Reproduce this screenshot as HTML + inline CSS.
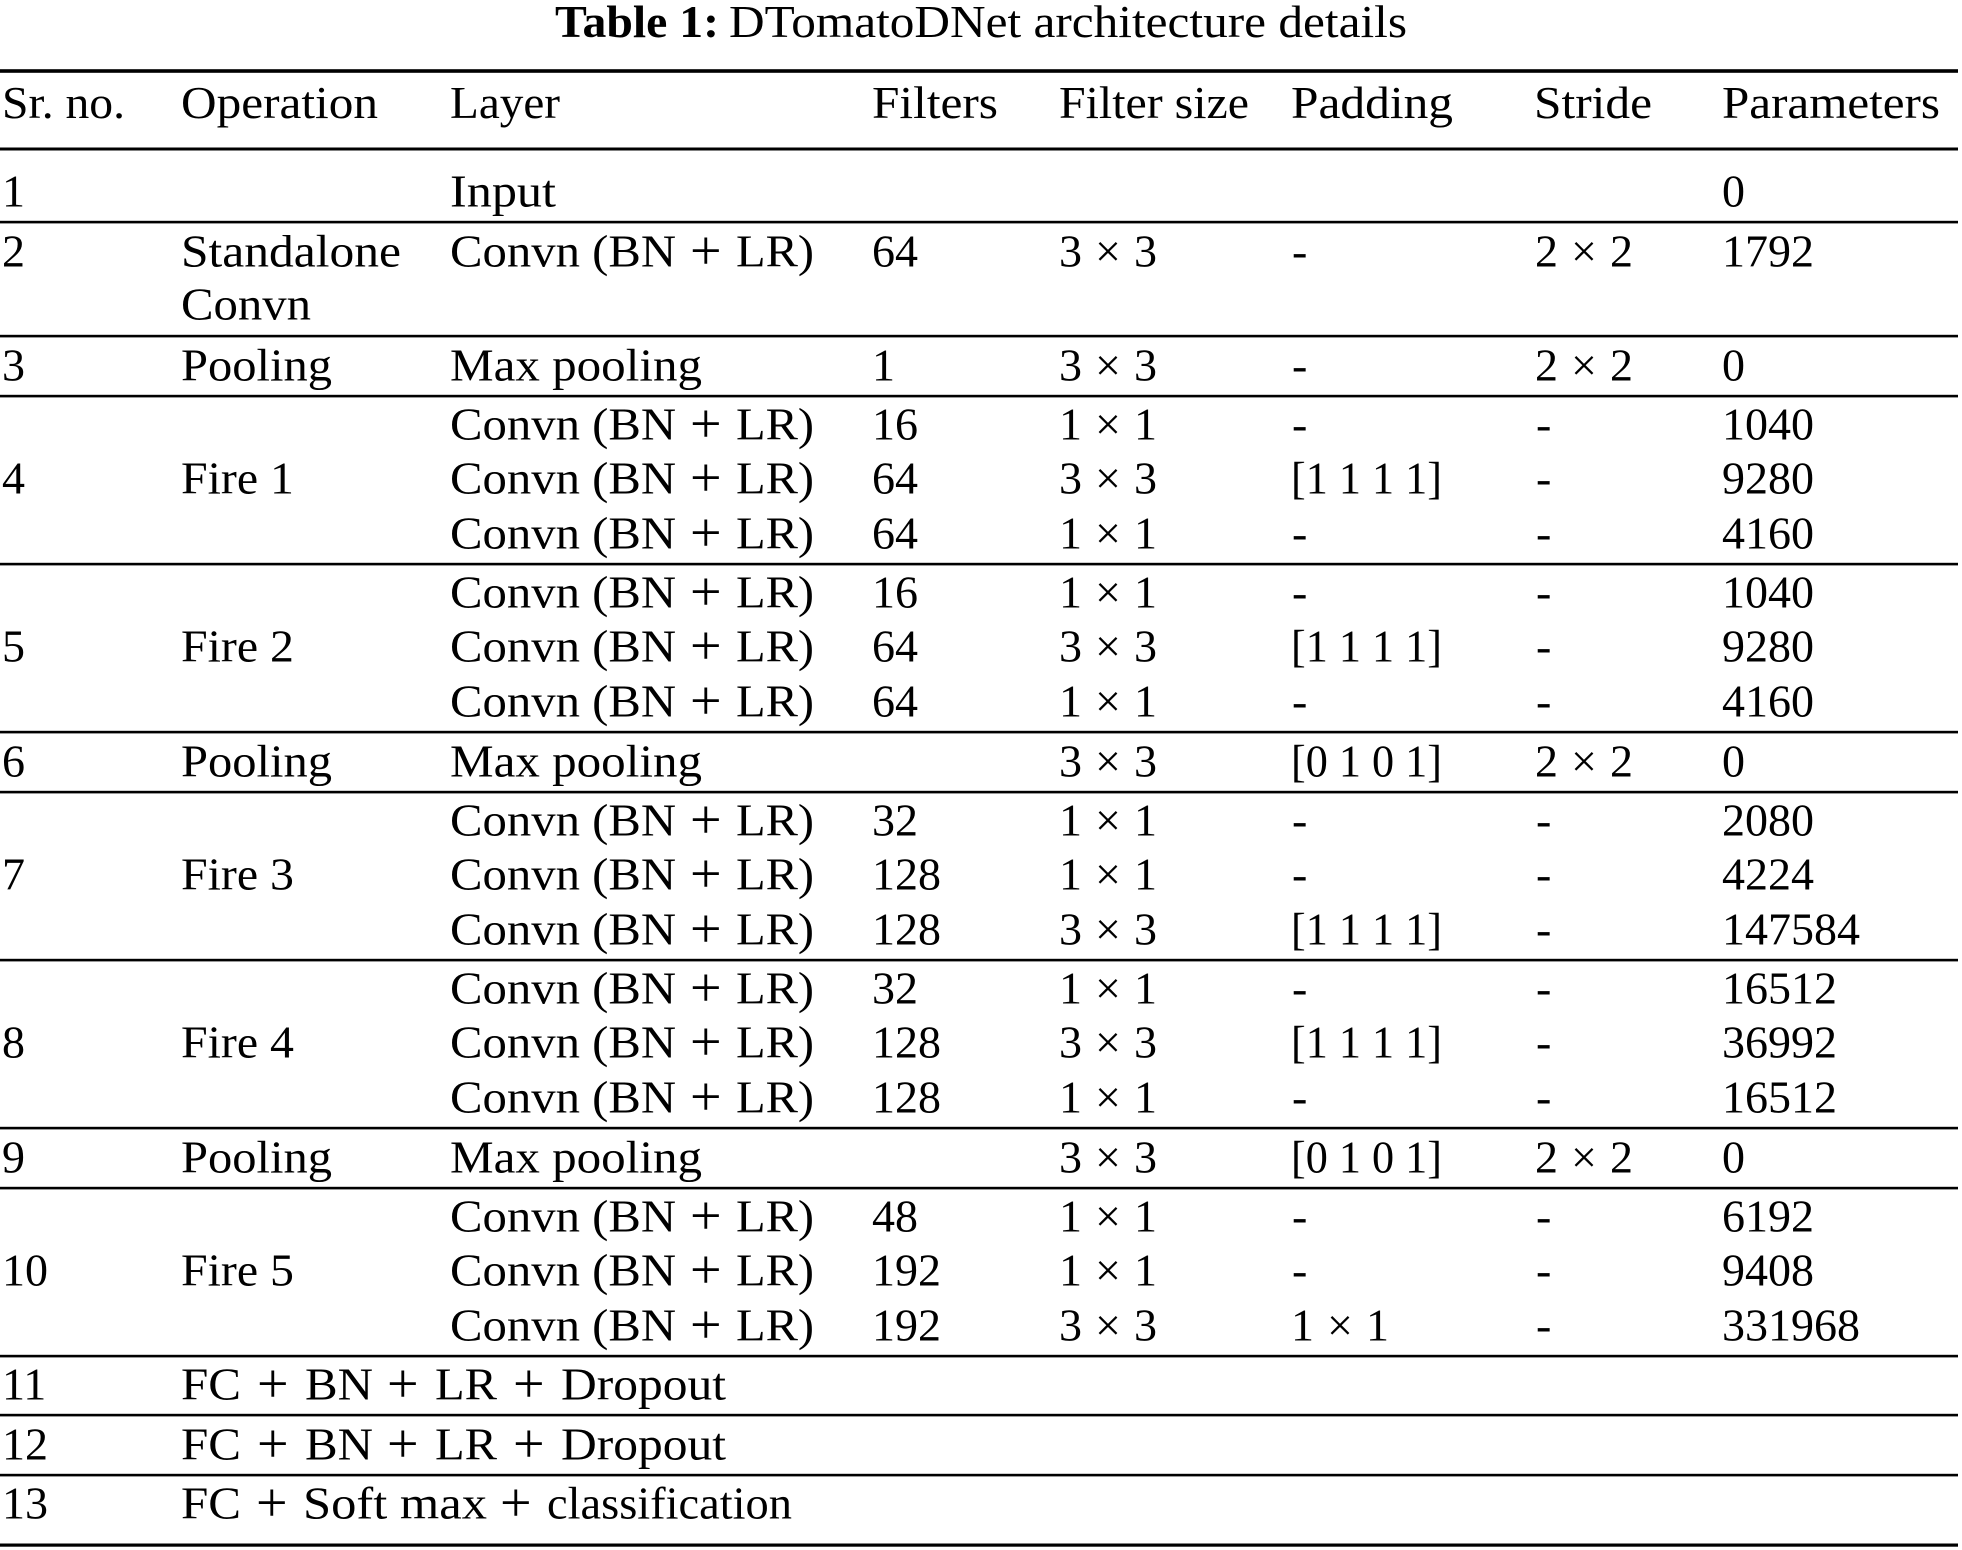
<!DOCTYPE html>
<html>
<head>
<meta charset="utf-8">
<style>
html,body{margin:0;padding:0;background:#fff;}
svg{display:block;}
text{font-family:"Liberation Serif","Times New Roman",serif;font-size:46px;fill:#000;}
text.p{font-size:56px;}
</style>
</head>
<body>
<svg width="1962" height="1550" viewBox="0 0 1962 1550" xmlns="http://www.w3.org/2000/svg">
<rect x="0" y="0" width="1962" height="1550" fill="#fff"/>

<!-- Title -->
<text x="555" y="37" font-weight="bold" textLength="164" lengthAdjust="spacingAndGlyphs">Table 1:</text>
<text x="729" y="37" textLength="678" lengthAdjust="spacingAndGlyphs">DTomatoDNet architecture details</text>

<!-- Rules -->
<g fill="#000">
<rect x="0" y="69.2" width="1958" height="3.6"/>
<rect x="0" y="147.5" width="1958" height="3"/>
<rect x="0" y="220.8" width="1958" height="2.6"/>
<rect x="0" y="334.8" width="1958" height="2.6"/>
<rect x="0" y="394.8" width="1958" height="2.6"/>
<rect x="0" y="562.8" width="1958" height="2.6"/>
<rect x="0" y="730.8" width="1958" height="2.6"/>
<rect x="0" y="790.8" width="1958" height="2.6"/>
<rect x="0" y="958.8" width="1958" height="2.6"/>
<rect x="0" y="1126.8" width="1958" height="2.6"/>
<rect x="0" y="1186.8" width="1958" height="2.6"/>
<rect x="0" y="1354.8" width="1958" height="2.6"/>
<rect x="0" y="1413.8" width="1958" height="2.6"/>
<rect x="0" y="1473.8" width="1958" height="2.6"/>
<rect x="0" y="1543.5" width="1958" height="3.2"/>
</g>

<!-- Header -->
<g transform="translate(0,-2)">
<text x="2" y="120" textLength="123" lengthAdjust="spacingAndGlyphs">Sr. no.</text>
<text x="181" y="120" textLength="197" lengthAdjust="spacingAndGlyphs">Operation</text>
<text x="450" y="120" textLength="110" lengthAdjust="spacingAndGlyphs">Layer</text>
<text x="872" y="120" textLength="126" lengthAdjust="spacingAndGlyphs">Filters</text>
<text x="1059" y="120" textLength="190" lengthAdjust="spacingAndGlyphs">Filter size</text>
<text x="1291" y="120" textLength="162" lengthAdjust="spacingAndGlyphs">Padding</text>
<text x="1534" y="120" textLength="118" lengthAdjust="spacingAndGlyphs">Stride</text>
<text x="1722" y="120" textLength="218" lengthAdjust="spacingAndGlyphs">Parameters</text>
</g>

<g transform="translate(0,-1.5)">
<!-- Row 1 -->
<text x="2" y="208">1</text>
<text x="450" y="208" textLength="106" lengthAdjust="spacingAndGlyphs">Input</text>
<text x="1722" y="208">0</text>

<!-- Row 2 -->
<text x="2" y="268">2</text>
<text x="181" y="268" textLength="220" lengthAdjust="spacingAndGlyphs">Standalone</text>
<text x="181" y="321" textLength="130" lengthAdjust="spacingAndGlyphs">Convn</text>
<text x="450" y="268" textLength="226" lengthAdjust="spacingAndGlyphs">Convn (BN</text>
<text class="p" x="690" y="271">+</text>
<text x="736" y="268" textLength="78" lengthAdjust="spacingAndGlyphs">LR)</text>
<text x="872" y="268">64</text>
<text y="268"><tspan x="1059">3</tspan><tspan x="1108" text-anchor="middle">×</tspan><tspan x="1134">3</tspan></text>
<text x="1292" y="268">-</text>
<text y="268"><tspan x="1535">2</tspan><tspan x="1584" text-anchor="middle">×</tspan><tspan x="1610">2</tspan></text>
<text x="1722" y="268">1792</text>

<!-- Row 3 -->
<text x="2" y="382">3</text>
<text x="181" y="382" textLength="151" lengthAdjust="spacingAndGlyphs">Pooling</text>
<text x="450" y="382" textLength="252" lengthAdjust="spacingAndGlyphs">Max pooling</text>
<text x="872" y="382">1</text>
<text y="382"><tspan x="1059">3</tspan><tspan x="1108" text-anchor="middle">×</tspan><tspan x="1134">3</tspan></text>
<text x="1292" y="382">-</text>
<text y="382"><tspan x="1535">2</tspan><tspan x="1584" text-anchor="middle">×</tspan><tspan x="1610">2</tspan></text>
<text x="1722" y="382">0</text>

<!-- Row 4 (Fire 1) -->
<text x="2" y="495">4</text>
<text x="181" y="495" textLength="113" lengthAdjust="spacingAndGlyphs">Fire 1</text>
<text x="450" y="441" textLength="226" lengthAdjust="spacingAndGlyphs">Convn (BN</text><text class="p" x="690" y="444">+</text><text x="736" y="441" textLength="78" lengthAdjust="spacingAndGlyphs">LR)</text>
<text x="450" y="495" textLength="226" lengthAdjust="spacingAndGlyphs">Convn (BN</text><text class="p" x="690" y="498">+</text><text x="736" y="495" textLength="78" lengthAdjust="spacingAndGlyphs">LR)</text>
<text x="450" y="550" textLength="226" lengthAdjust="spacingAndGlyphs">Convn (BN</text><text class="p" x="690" y="553">+</text><text x="736" y="550" textLength="78" lengthAdjust="spacingAndGlyphs">LR)</text>
<text x="872" y="441">16</text>
<text x="872" y="495">64</text>
<text x="872" y="550">64</text>
<text y="441"><tspan x="1059">1</tspan><tspan x="1108" text-anchor="middle">×</tspan><tspan x="1134">1</tspan></text>
<text y="495"><tspan x="1059">3</tspan><tspan x="1108" text-anchor="middle">×</tspan><tspan x="1134">3</tspan></text>
<text y="550"><tspan x="1059">1</tspan><tspan x="1108" text-anchor="middle">×</tspan><tspan x="1134">1</tspan></text>
<text x="1292" y="441">-</text>
<text x="1291" y="495" textLength="151" lengthAdjust="spacingAndGlyphs">[1 1 1 1]</text>
<text x="1292" y="550">-</text>
<text x="1536" y="441">-</text>
<text x="1536" y="495">-</text>
<text x="1536" y="550">-</text>
<text x="1722" y="441">1040</text>
<text x="1722" y="495">9280</text>
<text x="1722" y="550">4160</text>

<!-- Row 5 (Fire 2) -->
<text x="2" y="663">5</text>
<text x="181" y="663" textLength="113" lengthAdjust="spacingAndGlyphs">Fire 2</text>
<text x="450" y="609" textLength="226" lengthAdjust="spacingAndGlyphs">Convn (BN</text><text class="p" x="690" y="612">+</text><text x="736" y="609" textLength="78" lengthAdjust="spacingAndGlyphs">LR)</text>
<text x="450" y="663" textLength="226" lengthAdjust="spacingAndGlyphs">Convn (BN</text><text class="p" x="690" y="666">+</text><text x="736" y="663" textLength="78" lengthAdjust="spacingAndGlyphs">LR)</text>
<text x="450" y="718" textLength="226" lengthAdjust="spacingAndGlyphs">Convn (BN</text><text class="p" x="690" y="721">+</text><text x="736" y="718" textLength="78" lengthAdjust="spacingAndGlyphs">LR)</text>
<text x="872" y="609">16</text>
<text x="872" y="663">64</text>
<text x="872" y="718">64</text>
<text y="609"><tspan x="1059">1</tspan><tspan x="1108" text-anchor="middle">×</tspan><tspan x="1134">1</tspan></text>
<text y="663"><tspan x="1059">3</tspan><tspan x="1108" text-anchor="middle">×</tspan><tspan x="1134">3</tspan></text>
<text y="718"><tspan x="1059">1</tspan><tspan x="1108" text-anchor="middle">×</tspan><tspan x="1134">1</tspan></text>
<text x="1292" y="609">-</text>
<text x="1291" y="663" textLength="151" lengthAdjust="spacingAndGlyphs">[1 1 1 1]</text>
<text x="1292" y="718">-</text>
<text x="1536" y="609">-</text>
<text x="1536" y="663">-</text>
<text x="1536" y="718">-</text>
<text x="1722" y="609">1040</text>
<text x="1722" y="663">9280</text>
<text x="1722" y="718">4160</text>

<!-- Row 6 -->
<text x="2" y="778">6</text>
<text x="181" y="778" textLength="151" lengthAdjust="spacingAndGlyphs">Pooling</text>
<text x="450" y="778" textLength="252" lengthAdjust="spacingAndGlyphs">Max pooling</text>
<text y="778"><tspan x="1059">3</tspan><tspan x="1108" text-anchor="middle">×</tspan><tspan x="1134">3</tspan></text>
<text x="1291" y="778" textLength="151" lengthAdjust="spacingAndGlyphs">[0 1 0 1]</text>
<text y="778"><tspan x="1535">2</tspan><tspan x="1584" text-anchor="middle">×</tspan><tspan x="1610">2</tspan></text>
<text x="1722" y="778">0</text>

<!-- Row 7 (Fire 3) -->
<text x="2" y="891">7</text>
<text x="181" y="891" textLength="113" lengthAdjust="spacingAndGlyphs">Fire 3</text>
<text x="450" y="837" textLength="226" lengthAdjust="spacingAndGlyphs">Convn (BN</text><text class="p" x="690" y="840">+</text><text x="736" y="837" textLength="78" lengthAdjust="spacingAndGlyphs">LR)</text>
<text x="450" y="891" textLength="226" lengthAdjust="spacingAndGlyphs">Convn (BN</text><text class="p" x="690" y="894">+</text><text x="736" y="891" textLength="78" lengthAdjust="spacingAndGlyphs">LR)</text>
<text x="450" y="946" textLength="226" lengthAdjust="spacingAndGlyphs">Convn (BN</text><text class="p" x="690" y="949">+</text><text x="736" y="946" textLength="78" lengthAdjust="spacingAndGlyphs">LR)</text>
<text x="872" y="837">32</text>
<text x="872" y="891">128</text>
<text x="872" y="946">128</text>
<text y="837"><tspan x="1059">1</tspan><tspan x="1108" text-anchor="middle">×</tspan><tspan x="1134">1</tspan></text>
<text y="891"><tspan x="1059">1</tspan><tspan x="1108" text-anchor="middle">×</tspan><tspan x="1134">1</tspan></text>
<text y="946"><tspan x="1059">3</tspan><tspan x="1108" text-anchor="middle">×</tspan><tspan x="1134">3</tspan></text>
<text x="1292" y="837">-</text>
<text x="1292" y="891">-</text>
<text x="1291" y="946" textLength="151" lengthAdjust="spacingAndGlyphs">[1 1 1 1]</text>
<text x="1536" y="837">-</text>
<text x="1536" y="891">-</text>
<text x="1536" y="946">-</text>
<text x="1722" y="837">2080</text>
<text x="1722" y="891">4224</text>
<text x="1722" y="946">147584</text>

<!-- Row 8 (Fire 4) -->
<text x="2" y="1059">8</text>
<text x="181" y="1059" textLength="113" lengthAdjust="spacingAndGlyphs">Fire 4</text>
<text x="450" y="1005" textLength="226" lengthAdjust="spacingAndGlyphs">Convn (BN</text><text class="p" x="690" y="1008">+</text><text x="736" y="1005" textLength="78" lengthAdjust="spacingAndGlyphs">LR)</text>
<text x="450" y="1059" textLength="226" lengthAdjust="spacingAndGlyphs">Convn (BN</text><text class="p" x="690" y="1062">+</text><text x="736" y="1059" textLength="78" lengthAdjust="spacingAndGlyphs">LR)</text>
<text x="450" y="1114" textLength="226" lengthAdjust="spacingAndGlyphs">Convn (BN</text><text class="p" x="690" y="1117">+</text><text x="736" y="1114" textLength="78" lengthAdjust="spacingAndGlyphs">LR)</text>
<text x="872" y="1005">32</text>
<text x="872" y="1059">128</text>
<text x="872" y="1114">128</text>
<text y="1005"><tspan x="1059">1</tspan><tspan x="1108" text-anchor="middle">×</tspan><tspan x="1134">1</tspan></text>
<text y="1059"><tspan x="1059">3</tspan><tspan x="1108" text-anchor="middle">×</tspan><tspan x="1134">3</tspan></text>
<text y="1114"><tspan x="1059">1</tspan><tspan x="1108" text-anchor="middle">×</tspan><tspan x="1134">1</tspan></text>
<text x="1292" y="1005">-</text>
<text x="1291" y="1059" textLength="151" lengthAdjust="spacingAndGlyphs">[1 1 1 1]</text>
<text x="1292" y="1114">-</text>
<text x="1536" y="1005">-</text>
<text x="1536" y="1059">-</text>
<text x="1536" y="1114">-</text>
<text x="1722" y="1005">16512</text>
<text x="1722" y="1059">36992</text>
<text x="1722" y="1114">16512</text>

<!-- Row 9 -->
<text x="2" y="1174">9</text>
<text x="181" y="1174" textLength="151" lengthAdjust="spacingAndGlyphs">Pooling</text>
<text x="450" y="1174" textLength="252" lengthAdjust="spacingAndGlyphs">Max pooling</text>
<text y="1174"><tspan x="1059">3</tspan><tspan x="1108" text-anchor="middle">×</tspan><tspan x="1134">3</tspan></text>
<text x="1291" y="1174" textLength="151" lengthAdjust="spacingAndGlyphs">[0 1 0 1]</text>
<text y="1174"><tspan x="1535">2</tspan><tspan x="1584" text-anchor="middle">×</tspan><tspan x="1610">2</tspan></text>
<text x="1722" y="1174">0</text>

<!-- Row 10 (Fire 5) -->
<text x="2" y="1287">10</text>
<text x="181" y="1287" textLength="113" lengthAdjust="spacingAndGlyphs">Fire 5</text>
<text x="450" y="1233" textLength="226" lengthAdjust="spacingAndGlyphs">Convn (BN</text><text class="p" x="690" y="1236">+</text><text x="736" y="1233" textLength="78" lengthAdjust="spacingAndGlyphs">LR)</text>
<text x="450" y="1287" textLength="226" lengthAdjust="spacingAndGlyphs">Convn (BN</text><text class="p" x="690" y="1290">+</text><text x="736" y="1287" textLength="78" lengthAdjust="spacingAndGlyphs">LR)</text>
<text x="450" y="1342" textLength="226" lengthAdjust="spacingAndGlyphs">Convn (BN</text><text class="p" x="690" y="1345">+</text><text x="736" y="1342" textLength="78" lengthAdjust="spacingAndGlyphs">LR)</text>
<text x="872" y="1233">48</text>
<text x="872" y="1287">192</text>
<text x="872" y="1342">192</text>
<text y="1233"><tspan x="1059">1</tspan><tspan x="1108" text-anchor="middle">×</tspan><tspan x="1134">1</tspan></text>
<text y="1287"><tspan x="1059">1</tspan><tspan x="1108" text-anchor="middle">×</tspan><tspan x="1134">1</tspan></text>
<text y="1342"><tspan x="1059">3</tspan><tspan x="1108" text-anchor="middle">×</tspan><tspan x="1134">3</tspan></text>
<text x="1292" y="1233">-</text>
<text x="1292" y="1287">-</text>
<text y="1342"><tspan x="1291">1</tspan><tspan x="1340" text-anchor="middle">×</tspan><tspan x="1366">1</tspan></text>
<text x="1536" y="1233">-</text>
<text x="1536" y="1287">-</text>
<text x="1536" y="1342">-</text>
<text x="1722" y="1233">6192</text>
<text x="1722" y="1287">9408</text>
<text x="1722" y="1342">331968</text>

<!-- Row 11 -->
<text x="2" y="1401">11</text>
<text x="181" y="1401" textLength="60" lengthAdjust="spacingAndGlyphs">FC</text>
<text class="p" x="257" y="1404">+</text>
<text x="305" y="1401" textLength="68" lengthAdjust="spacingAndGlyphs">BN</text>
<text class="p" x="387" y="1404">+</text>
<text x="435" y="1401" textLength="62" lengthAdjust="spacingAndGlyphs">LR</text>
<text class="p" x="513" y="1404">+</text>
<text x="561" y="1401" textLength="165" lengthAdjust="spacingAndGlyphs">Dropout</text>

<!-- Row 12 -->
<text x="2" y="1461">12</text>
<text x="181" y="1461" textLength="60" lengthAdjust="spacingAndGlyphs">FC</text>
<text class="p" x="257" y="1464">+</text>
<text x="305" y="1461" textLength="68" lengthAdjust="spacingAndGlyphs">BN</text>
<text class="p" x="387" y="1464">+</text>
<text x="435" y="1461" textLength="62" lengthAdjust="spacingAndGlyphs">LR</text>
<text class="p" x="513" y="1464">+</text>
<text x="561" y="1461" textLength="165" lengthAdjust="spacingAndGlyphs">Dropout</text>

<!-- Row 13 -->
<text x="2" y="1520">13</text>
<text x="181" y="1520" textLength="60" lengthAdjust="spacingAndGlyphs">FC</text>
<text class="p" x="256" y="1523">+</text>
<text x="303" y="1520" textLength="184" lengthAdjust="spacingAndGlyphs">Soft max</text>
<text class="p" x="500" y="1523">+</text>
<text x="547" y="1520" textLength="245" lengthAdjust="spacingAndGlyphs">classification</text>
</g>

</svg>
</body>
</html>
